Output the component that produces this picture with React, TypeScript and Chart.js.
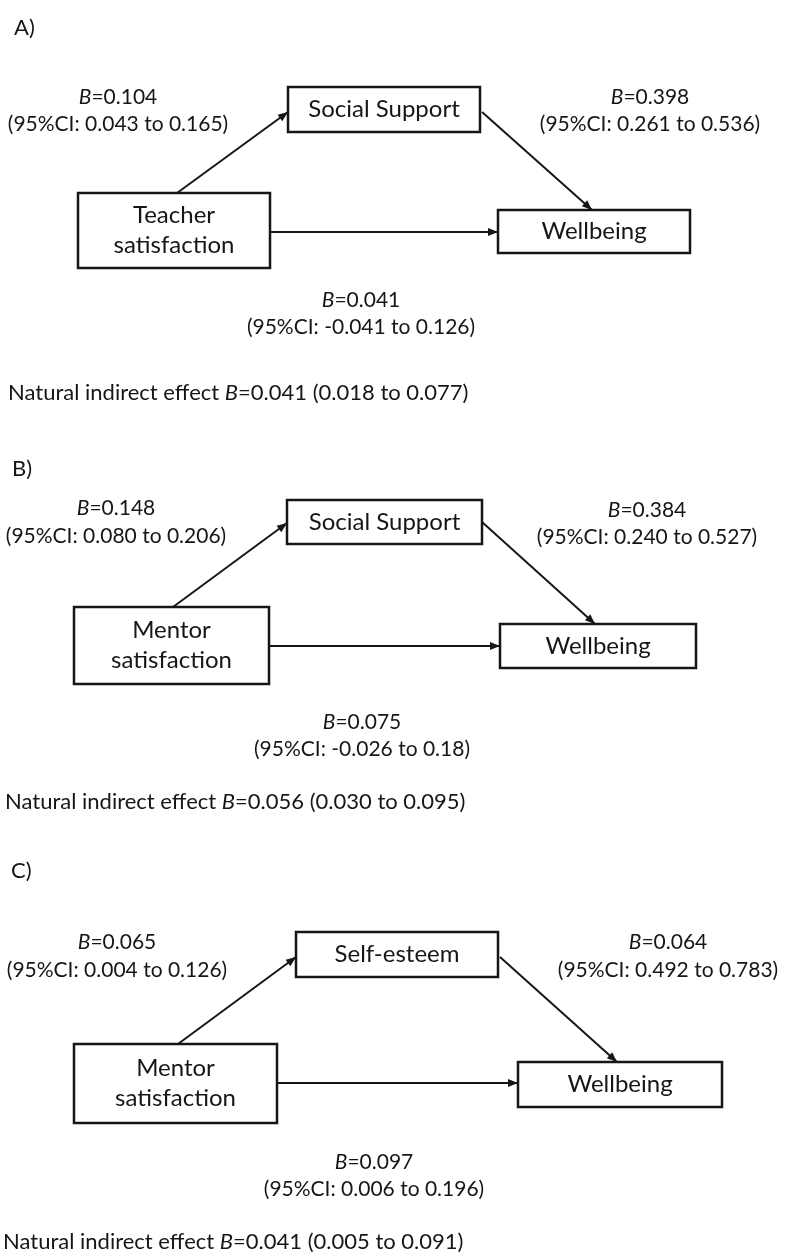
import React, { useEffect, useRef } from 'react';
import { Chart, registerables } from 'chart.js';

Chart.register(...registerables);

// ---------- data ----------
const panelLabels = ['A)', 'B)', 'C)'];
const predictorNames = [
  ['Teacher', 'satisfaction'],
  ['Mentor', 'satisfaction'],
  ['Mentor', 'satisfaction'],
];
const mediatorNames = ['Social Support', 'Social Support', 'Self-esteem'];
const outcomeNames = ['Wellbeing', 'Wellbeing', 'Wellbeing'];

const pathA_B = ['0.104', '0.148', '0.065'];
const pathA_lo = ['0.043', '0.080', '0.004'];
const pathA_hi = ['0.165', '0.206', '0.126'];

const pathB_B = ['0.398', '0.384', '0.064'];
const pathB_lo = ['0.261', '0.240', '0.492'];
const pathB_hi = ['0.536', '0.527', '0.783'];

const direct_B = ['0.041', '0.075', '0.097'];
const direct_lo = ['-0.041', '-0.026', '0.006'];
const direct_hi = ['0.126', '0.18', '0.196'];

const indirect_B = ['0.041', '0.056', '0.041'];
const indirect_lo = ['0.018', '0.030', '0.005'];
const indirect_hi = ['0.077', '0.095', '0.091'];

// ---------- layout (diagram coordinates) ----------
type Box = { x0: number; y0: number; x1: number; y1: number };
const layout = [
  {
    label: [14, 28],
    pred: { x0: 78, y0: 193, x1: 270, y1: 268 },
    med: { x0: 288, y0: 87, x1: 480, y1: 132 },
    out: { x0: 498, y0: 210, x1: 690, y1: 253 },
    aLab: [118, 97, 124],
    bLab: [650, 97, 124],
    cLab: [361, 300, 327],
    ind: [8, 393],
    arrows: [
      [177, 193, 288, 112],
      [482, 112, 592, 210],
      [270, 232, 498, 232],
    ],
  },
  {
    label: [12, 469],
    pred: { x0: 74, y0: 607, x1: 269, y1: 684 },
    med: { x0: 287, y0: 500, x1: 482, y1: 544 },
    out: { x0: 500, y0: 624, x1: 696, y1: 668 },
    aLab: [116, 508, 536],
    bLab: [647, 510, 537],
    cLab: [362, 722, 749],
    ind: [5, 802],
    arrows: [
      [173, 607, 287, 523],
      [482, 522, 595, 624],
      [269, 646, 500, 646],
    ],
  },
  {
    label: [11, 871],
    pred: { x0: 74, y0: 1044, x1: 277, y1: 1123 },
    med: { x0: 296, y0: 932, x1: 498, y1: 977 },
    out: { x0: 518, y0: 1062, x1: 722, y1: 1107 },
    aLab: [117, 942, 970],
    bLab: [668, 942, 970],
    cLab: [374, 1162, 1189],
    ind: [3, 1242],
    arrows: [
      [178, 1044, 296, 957],
      [500, 957, 617, 1062],
      [277, 1083, 518, 1083],
    ],
  },
];

const FONT = 'Lato, "Open Sans", sans-serif';
const INK = '#161616';

type Seg = { t: string; i?: boolean };

function drawRich(ctx: CanvasRenderingContext2D, segs: Seg[], x: number, y: number, size: number, align: 'center' | 'left') {
  let total = 0;
  const widths = segs.map((s) => {
    ctx.font = `${s.i ? 'italic ' : ''}${size}px ${FONT}`;
    const w = ctx.measureText(s.t).width;
    total += w;
    return w;
  });
  let cx = align === 'center' ? x - total / 2 : x;
  ctx.textAlign = 'left';
  ctx.textBaseline = 'middle';
  segs.forEach((s, k) => {
    ctx.font = `${s.i ? 'italic ' : ''}${size}px ${FONT}`;
    ctx.fillText(s.t, cx, y);
    cx += widths[k];
  });
}

const diagramPlugin = {
  id: 'mediationDiagram',
  afterDatasetsDraw(chart: any) {
    const { ctx } = chart;
    const xs = chart.scales.x;
    const ys = chart.scales.y;
    const px = (v: number) => xs.getPixelForValue(v);
    const py = (v: number) => ys.getPixelForValue(v);
    ctx.save();
    ctx.fillStyle = INK;
    ctx.strokeStyle = INK;

    const box = (b: Box, lines: string[]) => {
      const x0 = px(b.x0), y0 = py(b.y0), x1 = px(b.x1), y1 = py(b.y1);
      ctx.fillStyle = '#fff';
      ctx.fillRect(x0, y0, x1 - x0, y1 - y0);
      ctx.lineWidth = 2.5;
      ctx.strokeStyle = INK;
      ctx.strokeRect(x0, y0, x1 - x0, y1 - y0);
      ctx.fillStyle = INK;
      const cx = (x0 + x1) / 2;
      const cy = (y0 + y1) / 2;
      const lh = 30;
      lines.forEach((ln, k) => {
        drawRich(ctx, [{ t: ln }], cx, cy + (k - (lines.length - 1) / 2) * lh, 24, 'center');
      });
    };

    layout.forEach((L, p) => {
      // arrowheads
      L.arrows.forEach(([ax, ay, bx, by]) => {
        const x0 = px(ax), y0 = py(ay), x1 = px(bx), y1 = py(by);
        const ang = Math.atan2(y1 - y0, x1 - x0);
        const len = 10, half = 4;
        ctx.beginPath();
        ctx.moveTo(x1, y1);
        ctx.lineTo(x1 - len * Math.cos(ang) + half * Math.sin(ang), y1 - len * Math.sin(ang) - half * Math.cos(ang));
        ctx.lineTo(x1 - len * Math.cos(ang) - half * Math.sin(ang), y1 - len * Math.sin(ang) + half * Math.cos(ang));
        ctx.closePath();
        ctx.fillStyle = INK;
        ctx.fill();
      });

      box(L.pred, predictorNames[p]);
      box(L.med, [mediatorNames[p]]);
      box(L.out, [outcomeNames[p]]);

      ctx.fillStyle = INK;
      drawRich(ctx, [{ t: panelLabels[p] }], px(L.label[0]), py(L.label[1]), 22, 'left');

      const lab = (pos: number[], B: string, lo: string, hi: string) => {
        drawRich(ctx, [{ t: 'B', i: true }, { t: '=' + B }], px(pos[0]), py(pos[1]), 21, 'center');
        drawRich(ctx, [{ t: `(95%CI: ${lo} to ${hi})` }], px(pos[0]), py(pos[2]), 21, 'center');
      };
      lab(L.aLab, pathA_B[p], pathA_lo[p], pathA_hi[p]);
      lab(L.bLab, pathB_B[p], pathB_lo[p], pathB_hi[p]);
      lab(L.cLab, direct_B[p], direct_lo[p], direct_hi[p]);

      drawRich(
        ctx,
        [
          { t: 'Natural indirect effect ' },
          { t: 'B', i: true },
          { t: `=${indirect_B[p]} (${indirect_lo[p]} to ${indirect_hi[p]})` },
        ],
        px(L.ind[0]),
        py(L.ind[1]),
        22,
        'left'
      );
    });
    ctx.restore();
  },
};

export default function App() {
  const ref = useRef<HTMLCanvasElement | null>(null);
  useEffect(() => {
    if (!ref.current) return;
    const datasets = layout.flatMap((L) =>
      L.arrows.map(([ax, ay, bx, by]) => ({
        data: [
          { x: ax, y: ay },
          { x: bx, y: by },
        ],
        showLine: true,
        borderColor: INK,
        borderWidth: 2,
        pointRadius: 0,
        fill: false,
      }))
    );
    const chart = new Chart(ref.current, {
      type: 'scatter',
      data: { datasets },
      options: {
        animation: false,
        responsive: false,
        layout: { padding: 0 },
        events: [],
        plugins: { legend: { display: false }, tooltip: { enabled: false } },
        scales: {
          x: { type: 'linear', min: 0, max: 788, display: false },
          y: { type: 'linear', min: 0, max: 1256, reverse: true, display: false },
        },
      },
      plugins: [diagramPlugin],
    });
    return () => chart.destroy();
  }, []);
  return (
    <div style={{ position: 'absolute', left: 0, top: 0, width: 788, height: 1256, background: '#fff' }}>
      <canvas ref={ref} width={788} height={1256} style={{ display: 'block' }} />
    </div>
  );
}
